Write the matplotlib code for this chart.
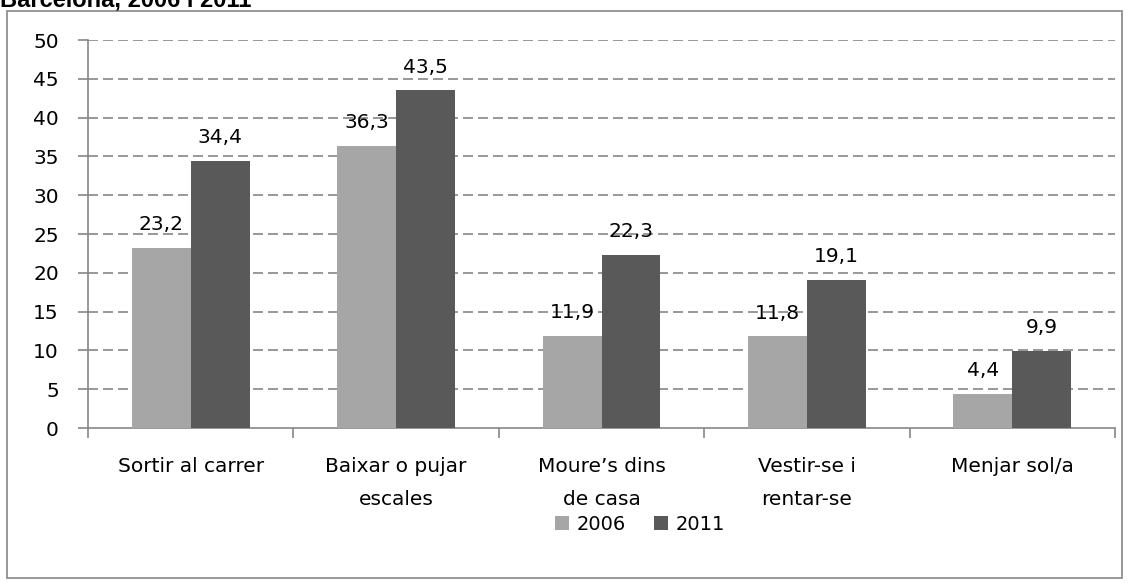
import matplotlib
matplotlib.use("Agg")
import matplotlib.pyplot as plt
import numpy as np
from matplotlib.patches import Rectangle

categories = ["Sortir al carrer", "Baixar o pujar\nescales", "Moure’s dins\nde casa", "Vestir-se i\nrentar-se", "Menjar sol/a"]
series_names = ["2006", "2011"]
values_2006 = [23.2, 36.3, 11.9, 11.8, 4.4]
values_2011 = [34.4, 43.5, 22.3, 19.1, 9.9]
yticks = list(range(0, 51, 5))

plt.rcParams['font.family'] = ['DejaVu Sans']
W, H = 1130, 583
fig = plt.figure(figsize=(W/100, H/100), dpi=100)

# outer chart border
fig.patches.append(Rectangle((7/W, 1 - 578/H), (1122-7)/W, (578-11)/H, transform=fig.transFigure,
                             fill=False, edgecolor='#868686', lw=1.2))
# title (partially cut at top)
fig.text(0/W, 1 - 6/H, "Barcelona, 2006 i 2011", ha='left', va='baseline', fontsize=17,
         fontweight='bold', family=['Liberation Sans', 'DejaVu Sans'])

ax = fig.add_axes([88/W, 1 - 428/H, (1115-88)/W, (428-40)/H])
x = np.arange(len(categories))
bw = 0.287
c1, c2 = '#A6A6A6', '#595959'
b1 = ax.bar(x - bw/2, values_2006, bw, color=c1, label=series_names[0], zorder=3)
b2 = ax.bar(x + bw/2, values_2011, bw, color=c2, label=series_names[1], zorder=3)

def fmt(v):
    return f"{v:.1f}".replace('.', ',')

for bars, vals in ((b1, values_2006), (b2, values_2011)):
    for r, v in zip(bars, vals):
        ax.annotate(fmt(v), (r.get_x() + r.get_width()/2, v), xytext=(0, 10), textcoords='offset points',
                    ha='center', va='bottom', fontsize=14.5, zorder=4)

ax.set_xlim(-0.5, len(categories) - 0.5)
ax.set_ylim(0, 50)
ax.set_yticks(yticks)
ax.set_yticklabels([str(t) for t in yticks], fontsize=14.5)
for t in yticks[1:]:
    ax.axhline(t, color='#868686', lw=1.2, ls=(0, (6, 3)), zorder=1)
ax.set_xticks(x)
ax.set_xticklabels(categories, fontsize=14.5, linespacing=1.95)
ax.set_xticks(np.arange(-0.5, len(categories)), minor=True)
ax.tick_params(axis='x', which='major', length=0, pad=21)
ax.tick_params(axis='x', which='minor', length=7, color='#868686', width=1.2, direction='out')
ax.tick_params(axis='y', length=7, color='#868686', width=1.2, direction='out', pad=14)
for s in ['top', 'right']:
    ax.spines[s].set_visible(False)
for s in ['left', 'bottom']:
    ax.spines[s].set_color('#868686')
    ax.spines[s].set_linewidth(1.2)

leg = fig.legend(handles=[b1, b2], labels=series_names, loc='center', bbox_to_anchor=(640/W, 1 - 524/H),
                 ncol=2, frameon=False, fontsize=14, handlelength=0.75, handleheight=0.75,
                 handletextpad=0.4, columnspacing=1.4)

fig.savefig("out.png", dpi=100)
